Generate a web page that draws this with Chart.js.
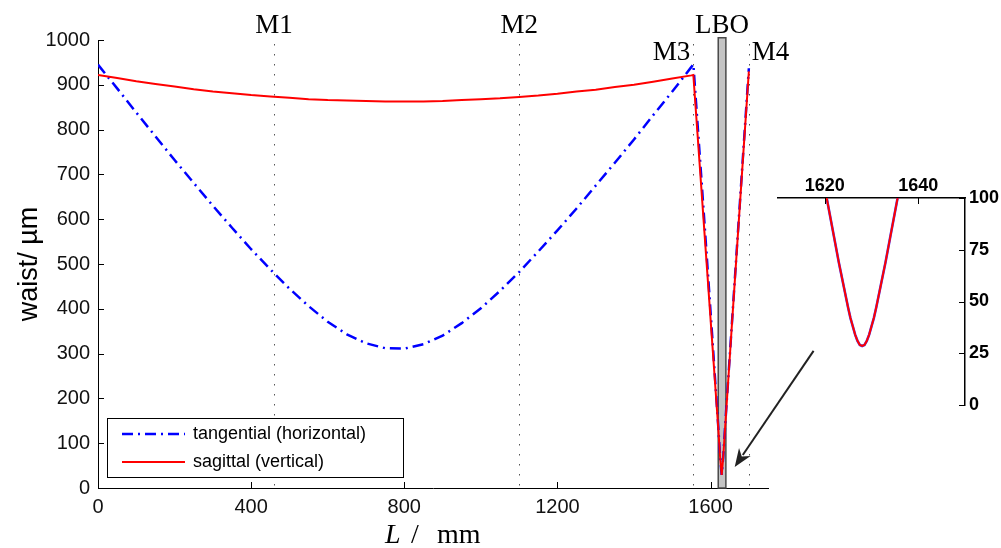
<!DOCTYPE html>
<html>
<head>
<meta charset="utf-8">
<script src="https://cdn.jsdelivr.net/npm/chart.js@4.4.0/dist/chart.umd.min.js"></script>
<style>
  html, body { margin: 0; padding: 0; background: #fff; }
  #wrap { position: relative; width: 1001px; height: 548px; }
  #main { position: absolute; left: 0; top: 0; }
  #inset { position: absolute; left: 740px; top: 160px; }
</style>
</head>
<body>
<div id="wrap">
  <canvas id="main" width="1001" height="548"></canvas>
  <canvas id="inset" width="261" height="270"></canvas>
</div>
<script>
// position along the cavity (mm)
const pos = [0, 50, 100, 150, 200, 250, 300, 350, 400, 450, 500, 550, 600, 650, 700, 750,
  800, 850, 900, 950, 1000, 1050, 1100, 1150, 1200, 1250, 1300, 1350, 1400, 1450, 1500, 1550, 1555,
  1575, 1590, 1605, 1620, 1625, 1629, 1633, 1638, 1655, 1670, 1685, 1700];

// beam waist (um)
const tangential = [945, 892, 838, 785, 732, 681, 630, 581, 533, 488, 445, 406, 371, 343, 323, 312,
  311, 321, 340, 368, 401, 440, 482, 528, 575, 624, 675, 726, 778, 832, 885, 940, 946,
  703, 518, 330, 138, 68, 29, 68, 138, 358, 552, 745, 937];
const sagittal = [922, 915, 908, 902, 896, 890, 885, 881, 877, 874, 871, 868, 866, 865, 864, 863,
  863, 863, 864, 866, 868, 870, 873, 876, 880, 885, 889, 895, 900, 907, 914, 921, 922,
  680, 498, 316, 135, 68, 29, 68, 135, 355, 548, 740, 930];

const xTicks = [0, 400, 800, 1200, 1600];
const yTicks = [0, 100, 200, 300, 400, 500, 600, 700, 800, 900, 1000];

// mirrors and crystal
const mirrors = ['M1', 'M2', 'M3', 'M4'];
const mirrorPos = [460, 1100, 1555, 1700];
const crystal = [1620, 1640];

// zoom on the crystal
const insetPos = [1619, 1620, 1621, 1622, 1623, 1624, 1625, 1625.5, 1626, 1626.5, 1627, 1627.5, 1628,
  1628.5, 1629, 1629.5, 1630, 1630.5, 1631, 1632, 1633, 1634, 1635, 1636, 1637];
const insetWaist = [117, 105, 93, 81, 69, 58, 47, 42, 38, 34, 31, 29, 28.5,
  29, 31, 34, 38, 42, 47, 58, 69, 81, 93, 105, 117];
const insetXTicks = [1620, 1640];
const insetYTicks = [0, 25, 50, 75, 100];

// arrow from inset to crystal (data coords of main chart)
const arrowFrom = [1869, 306];
const arrowTo = [1663, 47];

Chart.defaults.font.family = 'Liberation Sans';
Chart.defaults.color = '#000';

const serif = 'Liberation Serif';
const plain = v => String(v);

// ticks pointing into the plot, like matlab
const inwardTicks = {
  id: 'inwardTicks',
  afterDraw(chart) {
    const ctx = chart.ctx, a = chart.chartArea;
    const len = 6;
    ctx.save();
    ctx.strokeStyle = '#000';
    ctx.lineWidth = 1;
    Object.values(chart.scales).forEach(s => {
      s.ticks.forEach(t => {
        const p = Math.round(s.getPixelForValue(t.value)) + 0.5;
        ctx.beginPath();
        if (s.axis === 'x') {
          const y0 = s.position === 'top' ? a.top : a.bottom;
          const d = s.position === 'top' ? len : -len;
          ctx.moveTo(p, y0); ctx.lineTo(p, y0 + d);
        } else {
          const x0 = s.position === 'right' ? a.right : a.left;
          const d = s.position === 'right' ? -len : len;
          ctx.moveTo(x0, p); ctx.lineTo(x0 + d, p);
        }
        ctx.stroke();
      });
    });
    ctx.restore();
  }
};

const cavityDecor = {
  id: 'cavityDecor',
  beforeDatasetsDraw(chart) {
    const ctx = chart.ctx, x = chart.scales.x, y = chart.scales.y;
    ctx.save();
    // crystal
    const x1 = x.getPixelForValue(crystal[0]), x2 = x.getPixelForValue(crystal[1]);
    const top = y.getPixelForValue(1005), bot = y.getPixelForValue(0);
    ctx.fillStyle = '#c4c4c4';
    ctx.fillRect(x1, top, x2 - x1, bot - top);
    ctx.strokeStyle = '#4a4a4a';
    ctx.lineWidth = 1.5;
    ctx.strokeRect(x1, top, x2 - x1, bot - top);
    // mirror lines
    ctx.strokeStyle = '#555';
    ctx.lineWidth = 1;
    ctx.setLineDash([1.5, 8.5]);
    mirrorPos.forEach(m => {
      const px = Math.round(x.getPixelForValue(m)) + 0.5;
      ctx.beginPath();
      ctx.moveTo(px, 44);
      ctx.lineTo(px, bot);
      ctx.stroke();
    });
    ctx.restore();
  },
  afterDraw(chart) {
    const ctx = chart.ctx, x = chart.scales.x, y = chart.scales.y, a = chart.chartArea;
    ctx.save();
    // labels
    ctx.fillStyle = '#000';
    ctx.font = '27px ' + serif;
    ctx.textBaseline = 'alphabetic';
    mirrors.forEach((m, i) => {
      const px = x.getPixelForValue(mirrorPos[i]);
      if (i < 2) { ctx.textAlign = 'center'; ctx.fillText(m, px, 33); }
      else if (i === 2) { ctx.textAlign = 'right'; ctx.fillText(m, px - 3, 60); }
      else { ctx.textAlign = 'left'; ctx.fillText(m, px + 3, 60); }
    });
    ctx.textAlign = 'center';
    ctx.fillText('LBO', x.getPixelForValue((crystal[0] + crystal[1]) / 2), 33);

    // axis titles
    const cx = (a.left + a.right) / 2;
    ctx.textAlign = 'left';
    ctx.font = 'italic 28px ' + serif;
    ctx.fillText('L', cx - 48, 543);
    ctx.font = '28px ' + serif;
    ctx.fillText('/', cx - 22, 543);
    ctx.fillText('mm', cx + 4, 543);

    ctx.save();
    ctx.translate(30, (a.top + a.bottom) / 2);
    ctx.rotate(-Math.PI / 2);
    ctx.textAlign = 'center';
    ctx.textBaseline = 'middle';
    ctx.font = '27px Liberation Sans';
    ctx.fillText('waist/ µm', 0, 0);
    ctx.restore();

    // legend
    const lx = 107, ly = 418, lw = 296, lh = 59;
    ctx.fillStyle = '#fff';
    ctx.fillRect(lx, ly, lw, lh);
    ctx.strokeStyle = '#000';
    ctx.lineWidth = 1;
    ctx.strokeRect(lx + 0.5, ly + 0.5, lw, lh);
    const ds = chart.data.datasets;
    ds.forEach((d, i) => {
      const yy = ly + 16 + i * 28;
      ctx.strokeStyle = d.borderColor;
      ctx.lineWidth = d.borderWidth;
      ctx.setLineDash(d.borderDash || []);
      ctx.beginPath();
      ctx.moveTo(lx + 15, yy);
      ctx.lineTo(lx + 78, yy);
      ctx.stroke();
      ctx.setLineDash([]);
      ctx.fillStyle = '#000';
      ctx.font = '18px Liberation Sans';
      ctx.textAlign = 'left';
      ctx.textBaseline = 'middle';
      ctx.fillText(d.label, lx + 86, yy);
    });

    // arrow
    const ax = x.getPixelForValue(arrowFrom[0]), ay = y.getPixelForValue(arrowFrom[1]);
    const bx = x.getPixelForValue(arrowTo[0]), by = y.getPixelForValue(arrowTo[1]);
    const ang = Math.atan2(by - ay, bx - ax);
    const hl = 18, hw = 7;
    ctx.strokeStyle = '#222';
    ctx.fillStyle = '#222';
    ctx.lineWidth = 2;
    ctx.beginPath();
    ctx.moveTo(ax, ay);
    ctx.lineTo(bx - Math.cos(ang) * hl * 0.8, by - Math.sin(ang) * hl * 0.8);
    ctx.stroke();
    ctx.beginPath();
    ctx.moveTo(bx, by);
    ctx.lineTo(bx - Math.cos(ang) * hl - Math.sin(ang) * hw, by - Math.sin(ang) * hl + Math.cos(ang) * hw);
    ctx.lineTo(bx - Math.cos(ang) * hl * 0.7, by - Math.sin(ang) * hl * 0.7);
    ctx.lineTo(bx - Math.cos(ang) * hl + Math.sin(ang) * hw, by - Math.sin(ang) * hl - Math.cos(ang) * hw);
    ctx.closePath();
    ctx.fill();
    ctx.restore();
  }
};

new Chart(document.getElementById('main').getContext('2d'), {
  type: 'line',
  data: {
    datasets: [{
      label: 'tangential (horizontal)',
      data: pos.map((p, i) => ({ x: p, y: tangential[i] })),
      borderColor: '#0000ff',
      borderWidth: 2.5,
      borderDash: [11, 5, 2, 5],
      pointRadius: 0,
      tension: 0,
      order: 2
    }, {
      label: 'sagittal (vertical)',
      data: pos.map((p, i) => ({ x: p, y: sagittal[i] })),
      borderColor: '#ff0000',
      borderWidth: 2,
      pointRadius: 0,
      tension: 0,
      order: 1
    }]
  },
  options: {
    responsive: false,
    animation: false,
    layout: { padding: { left: 0, right: 233, top: 40, bottom: 0 } },
    plugins: { legend: { display: false }, tooltip: { enabled: false } },
    scales: {
      x: {
        type: 'linear',
        min: 0,
        max: 1750,
        afterFit: s => { s.height = 60; },
        afterBuildTicks: s => { s.ticks = xTicks.map(v => ({ value: v })); },
        grid: { drawOnChartArea: false, drawTicks: false },
        border: { color: '#000', width: 1 },
        ticks: { font: { size: 20 }, padding: 7, maxRotation: 0, color: '#111', callback: plain }
      },
      y: {
        min: 0,
        max: 1000,
        afterFit: s => { s.width = 98; },
        afterBuildTicks: s => { s.ticks = yTicks.map(v => ({ value: v })); },
        grid: { drawOnChartArea: false, drawTicks: false },
        border: { color: '#000', width: 1 },
        ticks: { font: { size: 20 }, padding: 8, color: '#111', callback: plain }
      }
    }
  },
  plugins: [cavityDecor, inwardTicks]
});

new Chart(document.getElementById('inset').getContext('2d'), {
  type: 'line',
  data: {
    datasets: [{
      data: insetPos.map((p, i) => ({ x: p, y: insetWaist[i] })),
      borderColor: '#ff0000',
      borderWidth: 2,
      pointRadius: 0,
      order: 1
    }, {
      data: insetPos.map((p, i) => ({ x: p, y: insetWaist[i] })),
      borderColor: '#4040ff',
      borderWidth: 2.6,
      pointRadius: 0,
      order: 2
    }]
  },
  options: {
    responsive: false,
    animation: false,
    layout: { padding: { left: 38, right: 0, top: 0, bottom: 25 } },
    plugins: { legend: { display: false }, tooltip: { enabled: false } },
    scales: {
      x: {
        type: 'linear',
        position: 'top',
        min: 1610,
        max: 1650,
        afterFit: s => { s.height = 38; },
        afterBuildTicks: s => { s.ticks = insetXTicks.map(v => ({ value: v })); },
        grid: { drawOnChartArea: false, drawTicks: false },
        border: { color: '#000', width: 1.5 },
        ticks: { font: { size: 18, weight: 'bold' }, padding: 1, maxRotation: 0, callback: plain }
      },
      y: {
        position: 'right',
        min: 0,
        max: 100,
        afterFit: s => { s.width = 36; },
        afterBuildTicks: s => { s.ticks = insetYTicks.map(v => ({ value: v })); },
        grid: { drawOnChartArea: false, drawTicks: false },
        border: { color: '#000', width: 1.5 },
        ticks: { font: { size: 18, weight: 'bold' }, padding: 4, callback: plain }
      }
    }
  },
  plugins: [inwardTicks]
});
</script>
</body>
</html>
